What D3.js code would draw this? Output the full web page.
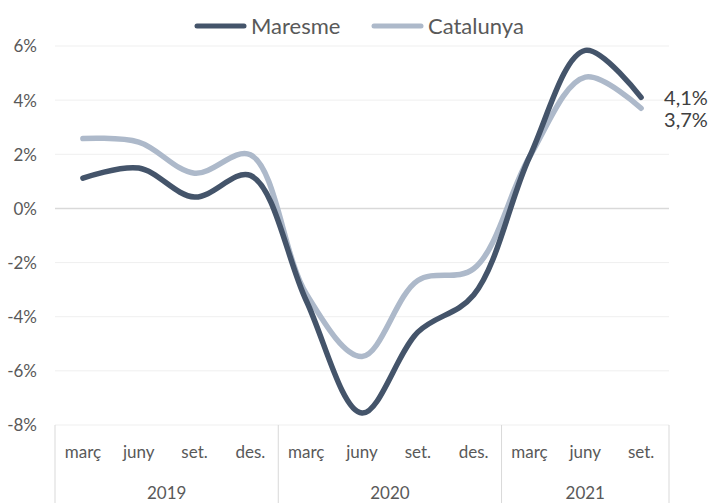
<!DOCTYPE html>
<html>
<head>
<meta charset="utf-8">
<script src="https://cdn.jsdelivr.net/npm/d3@7"></script>
<style>
  body { margin: 0; background: #fff; }
  svg text { font-family: Lato, "Open Sans", sans-serif; fill: #595959; }
  svg text.end-label { fill: #404040; }
</style>
</head>
<body>
<svg id="chart" width="711" height="503"></svg>
<script>
// data
const quarters = ["març", "juny", "set.", "des.", "març", "juny", "set.", "des.", "març", "juny", "set."];
const years = ["2019", "2020", "2021"];
const yearSpan = [4, 4, 3]; // quarters per year
const maresme = [1.12, 1.49, 0.42, 1.22, -3.4, -7.56, -4.57, -3.2, 1.9, 5.84, 4.1];
const catalunya = [2.58, 2.45, 1.3, 1.98, -3.15, -5.47, -2.66, -2.23, 1.9, 4.85, 3.7];
const endLabels = ["4,1%", "3,7%"];
const yTicks = [-8, -6, -4, -2, 0, 2, 4, 6];

const svg = d3.select("#chart");
const plotL = 55, plotR = 669, plotT = 46, plotB = 425;

const x = d3.scaleBand().domain(d3.range(quarters.length)).range([plotL, plotR]);
const y = d3.scaleLinear().domain([-8, 6]).range([plotB, plotT]);

// grid lines
svg.append("g").selectAll("line").data(yTicks).join("line")
  .attr("x1", plotL).attr("x2", plotR)
  .attr("y1", d => y(d)).attr("y2", d => y(d))
  .attr("stroke", d => d === 0 ? "#d9d9d9" : "#efefef")
  .attr("stroke-width", d => d === 0 ? 1.5 : 1);

// y axis labels
const yAxis = svg.append("g").attr("transform", "translate(" + (plotL - 18) + ",0)")
  .call(d3.axisLeft(y).tickValues(yTicks).tickSize(0).tickPadding(0).tickFormat(d => d + "%"));
yAxis.select(".domain").remove();
yAxis.selectAll("text").style("font-size", "17px").attr("dy", "0.35em")
  .style("font-family", "Lato, sans-serif").attr("fill", "#595959");

// x axis: quarter labels + year separators
const xAxis = svg.append("g").attr("transform", "translate(0," + plotB + ")")
  .call(d3.axisBottom(x).tickSize(0).tickFormat(i => quarters[i]));
xAxis.select(".domain").remove();
xAxis.selectAll("text").style("font-size", "17px").attr("y", 33).attr("dy", 0)
  .style("font-family", "Lato, sans-serif").attr("fill", "#595959");

let bounds = [0];
yearSpan.forEach(n => bounds.push(bounds[bounds.length - 1] + n));
const edge = i => i < quarters.length ? x(i) : x(quarters.length - 1) + x.bandwidth();

svg.append("g").selectAll("line").data(bounds).join("line")
  .attr("x1", d => edge(d)).attr("x2", d => edge(d))
  .attr("y1", plotB).attr("y2", 503)
  .attr("stroke", "#d9d9d9").attr("stroke-width", 1);

svg.append("g").selectAll("text").data(years).join("text")
  .attr("x", (d, i) => (edge(bounds[i]) + edge(bounds[i + 1])) / 2)
  .attr("y", 499)
  .attr("text-anchor", "middle").style("font-size", "17px")
  .text(d => d);

// lines
const line = d3.line()
  .x((d, i) => x(i) + x.bandwidth() / 2)
  .y(d => y(d))
  .curve(d3.curveCatmullRom.alpha(0.5));

const series = [
  { name: "Catalunya", values: catalunya, color: "#adb9ca" },
  { name: "Maresme", values: maresme, color: "#44546a" }
];

svg.append("g").selectAll("path").data(series).join("path")
  .attr("d", d => line(d.values))
  .attr("fill", "none")
  .attr("stroke", d => d.color)
  .attr("stroke-width", 5.5)
  .attr("stroke-linecap", "round");

// end labels
const lastX = x(quarters.length - 1) + x.bandwidth() / 2;
svg.append("text").attr("class", "end-label").attr("x", lastX + 23).attr("y", y(maresme[10]) + 8)
  .style("font-size", "20px").text(endLabels[0]);
svg.append("text").attr("class", "end-label").attr("x", lastX + 23).attr("y", y(catalunya[10]) + 19)
  .style("font-size", "20px").text(endLabels[1]);

// legend
const legend = [
  { name: "Maresme", color: "#44546a", x: 195 },
  { name: "Catalunya", color: "#adb9ca", x: 372 }
];
const lg = svg.append("g").selectAll("g").data(legend).join("g")
  .attr("transform", d => "translate(" + d.x + ",26)");
lg.append("line")
  .attr("x1", 2).attr("x2", 49)
  .attr("stroke", d => d.color).attr("stroke-width", 5).attr("stroke-linecap", "round");
lg.append("text")
  .attr("x", 56).attr("y", 8)
  .style("font-size", "22px").text(d => d.name);
</script>
</body>
</html>
